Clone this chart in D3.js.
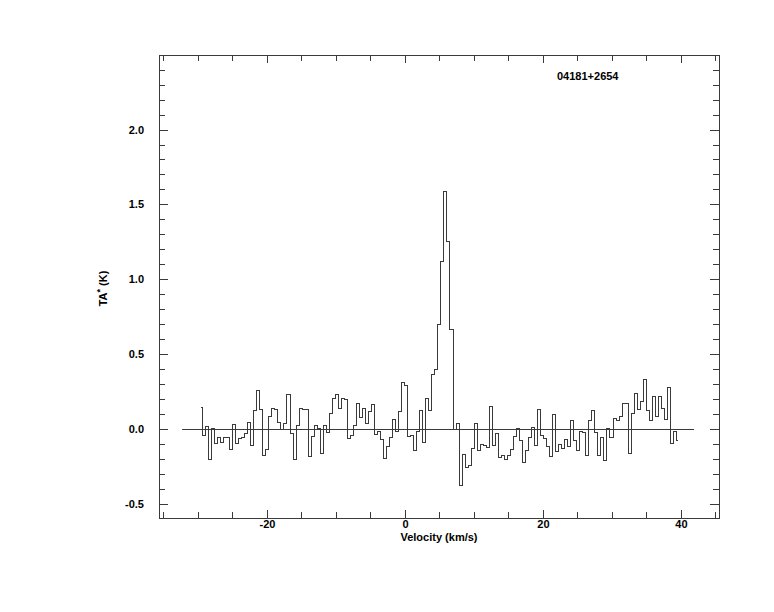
<!DOCTYPE html>
<html>
<head>
<meta charset="utf-8">
<script src="https://cdn.jsdelivr.net/npm/d3@7"></script>
<style>
  html, body { margin: 0; padding: 0; background: #fff; }
  svg { display: block; }
  text { font-family: "Liberation Sans", Arial, Helvetica, sans-serif; font-weight: bold; font-size: 11px; fill: #000; }
</style>
</head>
<body>
<svg id="chart" width="774" height="612"></svg>
<script>
// ---- data ----
const sourceName = "04181+2654";
const xTitle = "Velocity (km/s)";
const yTitleMain = "TA";
const yTitleSup = "*";
const yTitleUnit = " (K)";

const velStart = -29.57;      // km/s, centre of first channel
const chanWidth = 0.4375;     // km/s per channel

const intensity = [
  0.145, -0.042, 0.018, -0.203, 0.004, -0.096, -0.060, -0.091, -0.054, -0.060,
  -0.136, 0.031, -0.096, -0.065, -0.058, -0.029, 0.045, -0.109, 0.120, 0.254,
  0.129, -0.180, -0.138, 0.085, 0.138, 0.129, 0.045, -0.007, 0.036, 0.232,
  -0.033, -0.203, 0.025, 0.138, 0.129, 0.129, -0.187, -0.049, 0.022, 0.000,
  -0.163, 0.025, -0.027, 0.105, 0.205, 0.232, 0.138, 0.205, 0.198, -0.062,
  -0.042, 0.025, 0.172, 0.078, 0.134, 0.038, 0.114, 0.165, -0.036, -0.018,
  -0.069, -0.196, -0.116, -0.054, 0.060, -0.016, 0.116, 0.312, 0.288, -0.049,
  -0.042, -0.143, -0.020, 0.120, -0.089, 0.205, 0.120, 0.366, 0.400, 0.700,
  1.119, 1.583, 1.253, 0.662, -0.007, 0.036, -0.375, -0.174, -0.256, -0.243,
  -0.129, 0.038, -0.147, -0.103, -0.111, -0.125, 0.152, -0.109, -0.031, -0.192,
  -0.178, -0.207, -0.180, -0.136, -0.051, 0.004, -0.080, -0.223, -0.147, -0.056,
  0.011, -0.114, 0.132, -0.047, -0.062, -0.118, -0.187, 0.094, -0.154, -0.103,
  -0.134, -0.069, -0.120, 0.058, -0.076, -0.143, -0.016, -0.022, -0.180, 0.054,
  0.125, -0.025, -0.180, -0.056, -0.214, 0.000, -0.060, 0.071, 0.054, 0.085,
  0.172, 0.172, -0.163, 0.105, 0.239, 0.127, 0.181, 0.332, 0.123, 0.054,
  0.218, 0.080, 0.218, 0.134, 0.060, 0.279, -0.100, -0.016, -0.078
];

const baselineRange = [-32.3, 41.9];
const xDomain = [-35.65, 45.51];
const yDomain = [-0.595, 2.498];
const xMinorTicks = [-35, -30, -25, -20, -15, -10, -5, 0, 5, 10, 15, 20, 25, 30, 35, 40, 45];
const xMajorTicks = [-20, 0, 20, 40];
const xTickLabels = ["-20", "0", "20", "40"];
const yMinorTicks = d3.range(-5, 25).map(i => +(i / 10).toFixed(1));
const yMajorTicks = [-0.5, 0.0, 0.5, 1.0, 1.5, 2.0];
const yTickLabels = ["-0.5", "0.0", "0.5", "1.0", "1.5", "2.0"];

// ---- layout ----
const L = 159, R = 719, T = 55, B = 518;
const lineColor = "#3a3a3a";

const svg = d3.select("#chart");
const x = d3.scaleLinear().domain(xDomain).range([L, R]);
const y = d3.scaleLinear().domain(yDomain).range([B, T]);

const g = svg.append("g").attr("shape-rendering", "crispEdges");

// frame
g.append("rect")
  .attr("x", L + 0.5).attr("y", T + 0.5)
  .attr("width", R - L).attr("height", B - T)
  .attr("fill", "none").attr("stroke", lineColor);

function styleAxis(sel) {
  sel.select(".domain").remove();
  sel.selectAll(".tick line").attr("stroke", lineColor);
}

// x ticks (bottom, inside)
g.append("g").attr("transform", `translate(0,${B})`)
  .call(d3.axisBottom(x).tickValues(xMinorTicks).tickSize(-6).tickFormat(""))
  .call(styleAxis);
g.append("g").attr("transform", `translate(0,${B})`)
  .call(d3.axisBottom(x).tickValues(xMajorTicks).tickSize(-8).tickPadding(2)
    .tickFormat((d, i) => xTickLabels[i]))
  .call(styleAxis)
  .call(s => s.selectAll("text").style("font-size", "11px").style("font-family", null));
// x ticks (top, inside)
g.append("g").attr("transform", `translate(0,${T})`)
  .call(d3.axisTop(x).tickValues(xMinorTicks).tickSize(-6).tickFormat(""))
  .call(styleAxis);
g.append("g").attr("transform", `translate(0,${T})`)
  .call(d3.axisTop(x).tickValues(xMajorTicks).tickSize(-8).tickFormat(""))
  .call(styleAxis);

// y ticks (left, inside)
g.append("g").attr("transform", `translate(${L},0)`)
  .call(d3.axisLeft(y).tickValues(yMinorTicks).tickSize(-6).tickFormat(""))
  .call(styleAxis);
g.append("g").attr("transform", `translate(${L},0)`)
  .call(d3.axisLeft(y).tickValues(yMajorTicks).tickSize(-9).tickPadding(15)
    .tickFormat((d, i) => yTickLabels[i]))
  .call(styleAxis)
  .call(s => s.selectAll("text").style("font-size", "11px").style("font-family", null));
// y ticks (right, inside)
g.append("g").attr("transform", `translate(${R},0)`)
  .call(d3.axisRight(y).tickValues(yMinorTicks).tickSize(-6).tickFormat(""))
  .call(styleAxis);
g.append("g").attr("transform", `translate(${R},0)`)
  .call(d3.axisRight(y).tickValues(yMajorTicks).tickSize(-9).tickFormat(""))
  .call(styleAxis);

// baseline
svg.append("line")
  .attr("x1", x(baselineRange[0])).attr("x2", x(baselineRange[1]))
  .attr("y1", Math.round(y(0)) + 0.5).attr("y2", Math.round(y(0)) + 0.5)
  .attr("stroke", lineColor).attr("stroke-width", 1);

// spectrum histogram
const data = intensity.map((v, i) => ({ v: velStart + i * chanWidth, t: v }));
const line = d3.line().x(d => x(d.v)).y(d => y(d.t)).curve(d3.curveStep);
svg.append("path").datum(data)
  .attr("d", line)
  .attr("fill", "none").attr("stroke", lineColor).attr("stroke-width", 1)
  .attr("shape-rendering", "crispEdges");

// titles
svg.append("text").attr("x", 557).attr("y", 80).text(sourceName);
svg.append("text").attr("x", (L + R) / 2).attr("y", 541).attr("text-anchor", "middle").text(xTitle);

const yt = svg.append("text")
  .attr("transform", `translate(107,${(T + B) / 2 + 2}) rotate(-90)`)
  .attr("text-anchor", "middle");
yt.append("tspan").text(yTitleMain);
yt.append("tspan").attr("dy", -4).style("font-size", "9px").text(yTitleSup);
yt.append("tspan").attr("dy", 4).text(yTitleUnit);
</script>
</body>
</html>
